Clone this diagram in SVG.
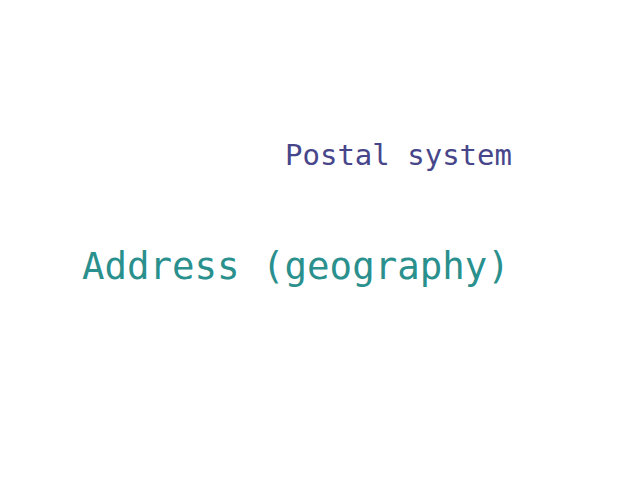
<svg xmlns="http://www.w3.org/2000/svg" width="640" height="480" viewBox="0 0 640 480">
<style>
text{font-family:"DejaVu Sans Mono","Liberation Mono",monospace}
.a{fill:#2a908d;font-size:37.4px}
.b{fill:#47468a;font-size:29px}
</style>
<rect width="640" height="480" fill="#fff"/>
<g id="postal-system"><text class="b" x="285" y="165">Postal system</text></g>
<g id="address-geography"><text class="a" x="82" y="279">Address (geography)</text></g>
</svg>
